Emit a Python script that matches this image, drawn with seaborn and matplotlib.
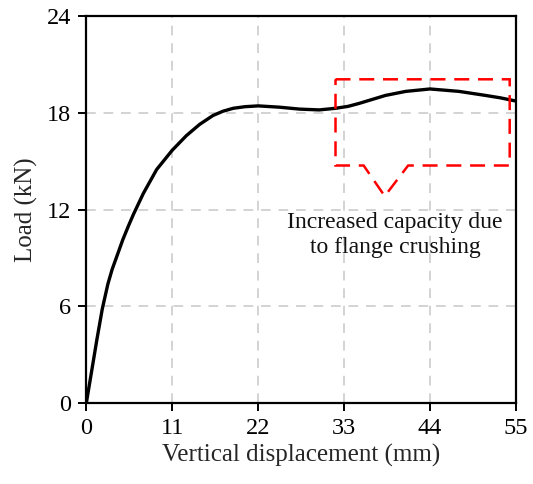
import matplotlib
matplotlib.use("Agg")

import numpy as np
import pandas as pd
import matplotlib.pyplot as plt
import seaborn as sns

# ── Data ─────────────────────────────────────────────────────────────────────
displacement = [0, 0.2, 0.7, 1.35, 2.04, 2.76, 3.3, 3.82, 4.67, 5.39, 6.03, 7.3,
                9.0, 11.0, 12.8, 14.5, 16.2, 17.5, 18.8, 20.3,
                22.0, 24.7, 27.3, 29.8, 31.9, 33.5, 34.9, 36.6, 38.3, 40.9,
                44.0, 47.7, 51.1, 53.0, 55.0]
load = [0, 0.6, 2.05, 3.95, 5.85, 7.4, 8.3, 9.0, 10.15, 11.0, 11.72, 13.02,
        14.5, 15.7, 16.6, 17.3, 17.85, 18.12, 18.3, 18.4,
        18.45, 18.37, 18.25, 18.2, 18.3, 18.42, 18.6, 18.85, 19.1, 19.35,
        19.5, 19.35, 19.1, 18.95, 18.75]

x_ticks = [0, 11, 22, 33, 44, 55]
y_ticks = [0, 6, 12, 18, 24]

# callout outline (data coords)
callout_x = [31.9, 54.2, 54.2, 41.2, 38.2, 35.5, 31.9, 31.9]
callout_y = [20.1, 20.1, 14.75, 14.75, 12.85, 14.75, 14.75, 20.1]
note_text = "Increased capacity due\nto flange crushing"

df = pd.DataFrame({"disp": displacement, "load": load})

# ── Style ────────────────────────────────────────────────────────────────────
sns.set_theme(style="ticks")
plt.rcParams["font.family"] = ["Liberation Serif", "DejaVu Serif"]

fig = plt.figure(figsize=(5.33, 4.84), dpi=100)
ax = fig.add_axes([0.162, 0.167, 0.806, 0.799])

sns.lineplot(data=df, x="disp", y="load", ax=ax, color="black", linewidth=2.4,
             sort=False, estimator=None)

ax.plot(callout_x, callout_y, color="#ff0000", linewidth=1.8, dashes=(6, 3.5),
        solid_joinstyle="miter", dash_joinstyle="miter")

ax.text(39.5, 10.45, note_text, ha="center", va="center", fontsize=17,
        linespacing=1.25, color="#111111")

ax.set_xlim(0, 55)
ax.set_ylim(0, 24)
ax.set_xticks(x_ticks)
ax.set_yticks(y_ticks)
ax.grid(True, color="#d3d3d3", linestyle=(0, (5, 4)), linewidth=1.4)
ax.set_axisbelow(True)

for s in ax.spines.values():
    s.set_visible(True)
    s.set_color("black")
    s.set_linewidth(1.6)

ax.tick_params(direction="out", length=6, width=1.4, colors="black",
               labelsize=17.5, pad=5)
ax.set_xlabel("Vertical displacement (mm)", fontsize=18, labelpad=3)
ax.set_ylabel("Load (kN)", fontsize=18, labelpad=6)

plt.savefig("out.png", dpi=100)
plt.close()
